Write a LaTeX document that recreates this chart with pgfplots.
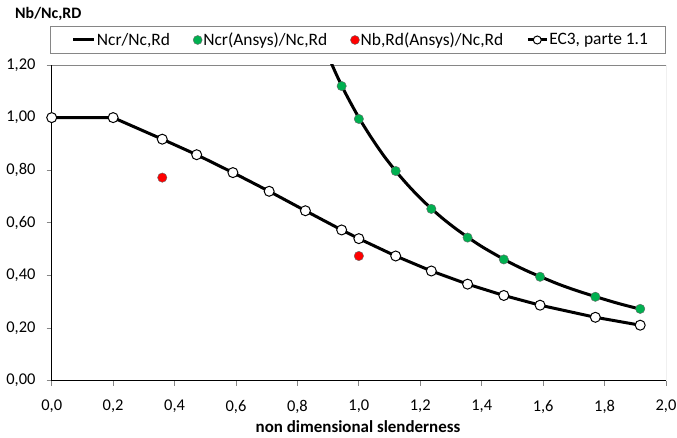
\documentclass[border=0pt]{standalone}
\usepackage{pgfplots}
\pgfplotsset{compat=1.18}
\usepackage{fontspec}
\setmainfont{Carlito}
\definecolor{exgreen}{RGB}{0,176,80}
\definecolor{exred}{RGB}{255,0,0}
\definecolor{frame}{RGB}{134,134,134}

\begin{document}
\begin{tikzpicture}
\path[use as bounding box] (0bp,0bp) rectangle (677bp,438bp);
\node[anchor=base west, inner sep=0pt, font=\fontsize{16}{19}\selectfont\bfseries] at (15bp,419bp) {Nb/Nc,RD};
\draw[frame, line width=0.9bp] (50.7bp,384.7bp) rectangle (665bp,411.3bp);
\begin{axis}[
  at={(51.7bp,57.3bp)}, anchor=south west, scale only axis,
  width=614.3bp, height=315.7bp,
  xmin=0, xmax=2, ymin=0, ymax=1.2,
  axis x line*=bottom, axis y line*=left,
  axis line style={black, line width=0.9bp, -},
  xtick={0,0.2,0.4,0.6,0.8,1.0,1.2,1.4,1.6,1.8,2.0},
  ytick={0,0.2,0.4,0.6,0.8,1.0,1.2},
  tick align=outside, major tick length=5bp,
  tick style={frame, line width=0.9bp},
  xticklabel={\pgfmathprintnumber[fixed,fixed zerofill,precision=1,use comma,assume math mode=true]{\tick}},
  yticklabel={\pgfmathprintnumber[fixed,fixed zerofill,precision=2,use comma,assume math mode=true]{\tick}},
  xticklabel style={font=\fontsize{16.5}{19}\selectfont, inner sep=0pt, yshift=-14bp},
  yticklabel style={font=\fontsize{16.5}{19}\selectfont, inner sep=0pt, xshift=-11bp},
  xlabel={non dimensional slenderness},
  xlabel style={font=\bfseries\fontsize{17}{19}\selectfont, at={(axis description cs:0.4986,0)}, anchor=base, yshift=-51.5bp, inner sep=0pt},
  legend columns=4,
  legend style={at={(axis description cs:0.0326,1)}, anchor=west, yshift=25bp, draw=none, fill=none, inner sep=0pt,
    font=\fontsize{17.5}{19}\selectfont,
    nodes={inner sep=1bp},
    /tikz/every even column/.append style={column sep=22bp}},
  legend cell align=left,
]
\draw[frame, line width=0.9bp] (rel axis cs:0,1) -- (rel axis cs:1,1) -- (rel axis cs:1,0);

\addplot[black, line width=3bp, smooth, legend image code/.code={\draw[black, line width=3bp] (0bp,0bp) -- (21bp,0bp);}] coordinates {
(0.905,1.221) (0.93,1.156) (0.96,1.085) (1.00,1.000) (1.04,0.925) (1.08,0.857)
(1.12,0.797) (1.16,0.743) (1.20,0.694) (1.24,0.650) (1.28,0.610) (1.32,0.574)
(1.36,0.541) (1.40,0.510) (1.45,0.476) (1.50,0.444) (1.55,0.416) (1.60,0.391)
(1.65,0.367) (1.70,0.346) (1.75,0.327) (1.80,0.309) (1.85,0.292) (1.916,0.272)
};
\addlegendentry{Ncr/Nc,Rd}

\addplot[only marks, mark=*, mark size=4.7bp, mark options={fill=exgreen, draw=black!60, line width=0.4bp},
  legend image code/.code={\draw[fill=exgreen, draw=black!60, line width=0.4bp] (4.5bp,0bp) circle (4.5bp);}] coordinates {
(0.944,1.120) (1.0,0.995) (1.12,0.797) (1.236,0.653) (1.354,0.544) (1.472,0.461) (1.59,0.395) (1.77,0.319) (1.916,0.273)
};
\addlegendentry{Ncr(Ansys)/Nc,Rd}

\addplot[only marks, mark=*, mark size=4.7bp, mark options={fill=exred, draw=black!60, line width=0.4bp},
  legend image code/.code={\draw[fill=exred, draw=black!60, line width=0.4bp] (4.5bp,0bp) circle (4.5bp);}] coordinates {
(0.36,0.772) (1.0,0.474)
};
\addlegendentry{Nb,Rd(Ansys)/Nc,Rd}

\addplot[black, line width=3bp, mark=*, mark size=5bp, mark options={solid, fill=white, draw=black, line width=1bp},
  legend image code/.code={\draw[black, line width=3bp] (0bp,0bp) -- (19bp,0bp); \draw[black, fill=white, line width=1bp] (9.5bp,0bp) circle (4bp);}] coordinates {
(0,1.0) (0.2,1.0) (0.36,0.918) (0.472,0.859) (0.59,0.791) (0.708,0.720) (0.826,0.646) (0.944,0.573)
(1.0,0.540) (1.12,0.474) (1.236,0.417) (1.354,0.367) (1.472,0.324) (1.59,0.287) (1.77,0.241) (1.916,0.211)
};
\addlegendentry{EC3, parte 1.1}
\end{axis}
\end{tikzpicture}
\end{document}
